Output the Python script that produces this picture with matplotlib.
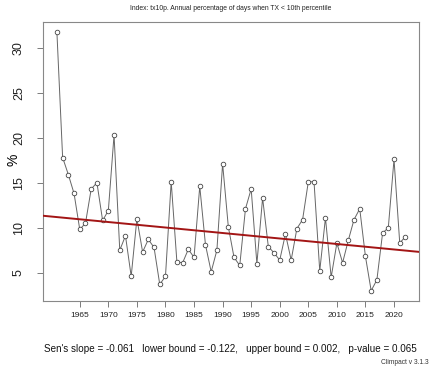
import matplotlib
matplotlib.use("Agg")
import matplotlib.pyplot as plt
import numpy as np

plt.rcParams["font.family"] = ["Liberation Sans", "DejaVu Sans"]

# tx10p annual values, 1961-2022
years = list(range(1961, 2023))
tx10p = [
    31.7, 17.8, 15.9, 13.8, 9.8, 10.5, 14.3, 15.0, 10.8, 11.9,
    20.3, 7.5, 9.1, 4.6, 11.0, 7.3, 8.7, 7.8, 3.7, 4.6,
    15.1, 6.2, 6.1, 7.6, 6.7, 14.6, 8.1, 5.1, 7.5, 17.1,
    10.1, 6.7, 5.8, 12.1, 14.3, 6.0, 13.3, 7.9, 7.2, 6.4,
    9.3, 6.4, 9.9, 10.9, 15.1, 15.1, 5.2, 11.1, 4.5, 8.3,
    6.1, 8.6, 10.9, 12.1, 6.8, 3.0, 4.2, 9.4, 10.0, 17.6,
    8.3, 9.0,
]
xticks = list(range(1965, 2021, 5))
yticks = [5, 10, 15, 20, 25, 30]

sen_slope = -0.061
lower_bound = -0.122
upper_bound = 0.002
p_value = 0.065
trend_at_1990 = 9.41

x = np.array(years)
y = np.array(tx10p)

fig = plt.figure(figsize=(4.43, 3.68), dpi=100)
ax = fig.add_axes([0.097, 0.182, 0.8497, 0.758])

# line + open circles (type="b" look)
ax.plot(x, y, color="#666666", lw=0.7, zorder=2)
ax.plot(x, y, ls="none", marker="o", ms=3.3, mfc="white", mec="#444444",
        mew=0.6, zorder=3)

# Sen's slope trend line across the whole panel
xl = (x.min() - 0.04 * (x.max() - x.min()), x.max() + 0.04 * (x.max() - x.min()))
yr = y.max() - y.min()
yl = (y.min() - 0.04 * yr, y.max() + 0.04 * yr)
tx = np.array(xl)
ax.plot(tx, trend_at_1990 + sen_slope * (tx - 1990), color="#a31515", lw=1.4, zorder=4)

ax.set_xlim(xl)
ax.set_ylim(yl)
ax.set_xticks(xticks)
ax.set_yticks(yticks)
ax.tick_params(axis="x", labelsize=6, colors="#666666", labelcolor="#222222",
               length=4, width=0.6, pad=4)
ax.tick_params(axis="y", labelsize=9, colors="#666666", labelcolor="#222222",
               length=4, width=0.6, pad=9)
for lab in ax.get_yticklabels():
    lab.set_rotation(90)
    lab.set_va("center")
for s in ax.spines.values():
    s.set_color("#888888")
    s.set_linewidth(0.8)

ax.set_ylabel("%", fontsize=10)
ax.yaxis.set_label_coords(-0.06, 0.505)
fig.text(0.521, 0.976, "Index: tx10p. Annual percentage of days when TX < 10th percentile",
         ha="center", va="center", fontsize=4.9, color="#222222")
fig.text(0.521, 0.052,
         f"Sen's slope = {sen_slope}   lower bound = {lower_bound},   "
         f"upper bound = {upper_bound},   p-value = {p_value}",
         ha="center", va="center", fontsize=7.1, color="#111111")
fig.text(0.967, 0.016, "Climpact v 3.1.3", ha="right", va="center",
         fontsize=4.8, color="#333333")

fig.savefig("out.png", dpi=100)
